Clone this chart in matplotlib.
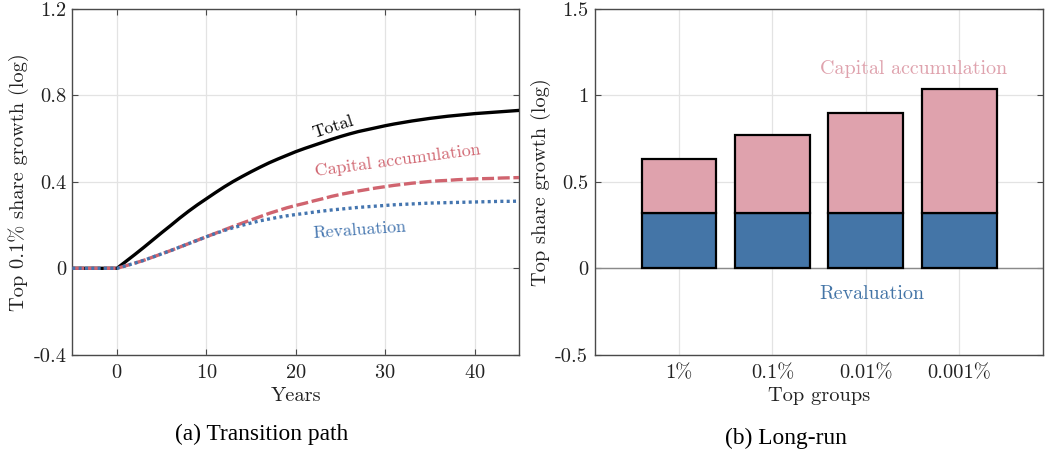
import matplotlib
matplotlib.use("Agg")
import matplotlib.pyplot as plt

plt.rcParams["font.family"] = "cmr10"
plt.rcParams["mathtext.fontset"] = "cm"
plt.rcParams["axes.unicode_minus"] = False
plt.rcParams["axes.formatter.use_mathtext"] = True

# Transition path of the top 0.1% share (log growth), yearly
years = [-5, -4, -3, -2, -1, 0, 1, 2, 3, 4, 5, 6, 7, 8, 9, 10, 11, 12, 13, 14,
         15, 16, 17, 18, 19, 20, 21, 22, 23, 24, 25, 26, 27, 28, 29, 30, 31,
         32, 33, 34, 35, 36, 37, 38, 39, 40, 41, 42, 43, 44, 45]
total = [0, 0, 0, 0, 0, 0, 0.032, 0.064, 0.097, 0.131, 0.165, 0.198, 0.232,
         0.264, 0.294, 0.322, 0.35, 0.377, 0.402, 0.425, 0.447, 0.468, 0.488,
         0.506, 0.523, 0.54, 0.555, 0.569, 0.583, 0.597, 0.61, 0.622, 0.633,
         0.642, 0.651, 0.66, 0.668, 0.675, 0.682, 0.688, 0.694, 0.699, 0.704,
         0.708, 0.712, 0.716, 0.719, 0.722, 0.725, 0.728, 0.731]
capital_accumulation = [0, 0, 0, 0, 0, 0, 0.012, 0.024, 0.037, 0.052, 0.067,
                        0.082, 0.098, 0.114, 0.13, 0.146, 0.162, 0.178, 0.194,
                        0.209, 0.224, 0.239, 0.254, 0.267, 0.28, 0.291, 0.301,
                        0.312, 0.322, 0.333, 0.342, 0.35, 0.358, 0.365, 0.372,
                        0.378, 0.384, 0.389, 0.394, 0.398, 0.402, 0.405, 0.407,
                        0.41, 0.412, 0.414, 0.415, 0.416, 0.418, 0.419, 0.42]
revaluation = [0, 0, 0, 0, 0, 0, 0.012, 0.024, 0.037, 0.052, 0.067, 0.082,
               0.098, 0.114, 0.13, 0.146, 0.161, 0.175, 0.188, 0.199, 0.21,
               0.22, 0.228, 0.236, 0.243, 0.249, 0.254, 0.26, 0.265, 0.27,
               0.274, 0.278, 0.282, 0.285, 0.288, 0.291, 0.294, 0.296, 0.298,
               0.3, 0.302, 0.303, 0.304, 0.305, 0.306, 0.307, 0.308, 0.309,
               0.31, 0.31, 0.311]

# Long-run decomposition by top group
groups = ["1%", "0.1%", "0.01%", "0.001%"]
lr_revaluation = [0.32, 0.32, 0.32, 0.32]
lr_capital = [0.31, 0.45, 0.58, 0.72]

RED = "#d0646f"
BLUE = "#4475af"
PINK_BAR = "#dfa2ad"
BLUE_BAR = "#4475a7"
GRID = "#e3e3e3"
FRAME = "#4a4a4a"

fig = plt.figure(figsize=(10.48, 4.54), dpi=100)
ax1 = fig.add_axes([0.0690, 0.2187, 0.4265, 0.7613])
ax2 = fig.add_axes([0.5677, 0.2187, 0.4278, 0.7613])

fs = 14.7


def style(ax):
    ax.grid(True, color=GRID, linewidth=0.9)
    ax.set_axisbelow(True)
    for s in ax.spines.values():
        s.set_color(FRAME)
        s.set_linewidth(1.0)
    ax.tick_params(direction="in", length=4, width=0.8, color=FRAME,
                   labelsize=fs, top=True, right=True, labelcolor="#222222")
    ax.tick_params(axis="x", pad=7)
    ax.tick_params(axis="y", pad=4)


# (a) Transition path
style(ax1)
ax1.plot(years, total, color="black", lw=2.4, solid_capstyle="butt", zorder=3)
ax1.plot(years, capital_accumulation, color=RED, lw=2.4,
         linestyle=(0, (3.6, 1.1)), dash_capstyle="butt", zorder=4)
ax1.plot(years, revaluation, color=BLUE, lw=2.4,
         linestyle=(0, (0.9, 1.0)), dash_capstyle="butt", zorder=5)
ax1.set_xlim(-5, 45)
ax1.set_ylim(-0.4, 1.2)
ax1.set_xticks([0, 10, 20, 30, 40])
ax1.set_yticks([-0.4, 0, 0.4, 0.8, 1.2])
ax1.set_yticklabels(["-0.4", "0", "0.4", "0.8", "1.2"])
ax1.set_xlabel("Years", fontsize=fs, va="center", color="#222222")
ax1.xaxis.set_label_coords(0.5, -0.1195)
ax1.set_ylabel("Top 0.1% share growth (log)", fontsize=fs, va="center",
               color="#222222")
ax1.yaxis.set_label_coords(-0.120, 0.5)
ax1.text(24.2, 0.654, "Total", fontsize=12.8, rotation=18,
         ha="center", va="center", color="black")
ax1.text(31.4, 0.50, "Capital accumulation", fontsize=12.8, rotation=7.5,
         ha="center", va="center", color=RED)
ax1.text(27.2, 0.177, "Revaluation", fontsize=12.8, rotation=4,
         ha="center", va="center", color=BLUE)

# (b) Long-run
style(ax2)
pos = [1, 2, 3, 4]
ax2.axhline(0, color="#8a8a8a", lw=1.0, zorder=1)
ax2.bar(pos, lr_revaluation, width=0.8, color=BLUE_BAR, edgecolor="black",
        linewidth=1.6, zorder=2)
ax2.bar(pos, lr_capital, width=0.8, bottom=lr_revaluation, color=PINK_BAR,
        edgecolor="black", linewidth=1.6, zorder=2)
ax2.set_xlim(0.1, 4.9)
ax2.set_ylim(-0.5, 1.5)
ax2.set_xticks(pos)
ax2.set_xticklabels(groups)
ax2.set_yticks([-0.5, 0, 0.5, 1, 1.5])
ax2.set_yticklabels(["-0.5", "0", "0.5", "1", "1.5"])
ax2.tick_params(axis="x", length=0)
ax2.tick_params(axis="y", pad=5)
ax2.set_xlabel("Top groups", fontsize=fs, va="center", color="#222222")
ax2.xaxis.set_label_coords(0.5, -0.1195)
ax2.set_ylabel("Top share growth (log)", fontsize=fs, va="center",
               color="#222222")
ax2.yaxis.set_label_coords(-0.1205, 0.5)
ax2.text(3.51, 1.151, "Capital accumulation", fontsize=14.4, ha="center",
         va="center", color=PINK_BAR)
ax2.text(3.06, -0.150, "Revaluation", fontsize=14.4, ha="center",
         va="center", color=BLUE_BAR)

# Panel captions
fig.text(262 / 1048, 1 - 434 / 454, "(a) Transition path",
         family="Liberation Serif", fontsize=16.8, ha="center", va="center")
fig.text(786 / 1048, 1 - 438.5 / 454, "(b) Long-run",
         family="Liberation Serif", fontsize=16.8, ha="center", va="center")

fig.savefig("out.png", dpi=100)
